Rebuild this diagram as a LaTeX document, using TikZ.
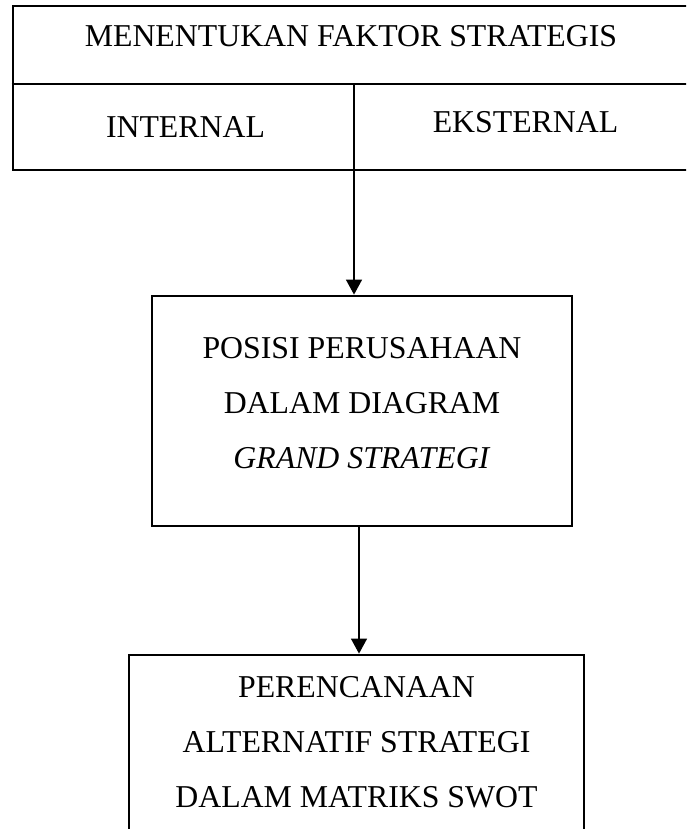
\documentclass[tikz,border=0pt]{standalone}
\usepackage{fontspec}
\setmainfont{Liberation Serif}
\usepackage{tikz}
\usetikzlibrary{arrows.meta, positioning}

\tikzset{
  kotak/.style={draw=black,line width=1.4pt,rectangle,inner sep=0pt,align=center},
  panah/.style={draw=black,line width=0.65pt,-{Triangle[width=8pt,length=7.5pt]}}
}

\begin{document}
\begin{tikzpicture}[x=0.5pt,y=-0.5pt,font=\fontsize{15.9pt}{27.5pt}\selectfont]
      \useasboundingbox (0,0) rectangle (686,829);
      \clip (0,0) rectangle (686,829);
      \begin{scope}[every node/.style={kotak}]
      \node[minimum width=339.5pt,minimum height=82pt] (faktor) at (352.5,88) {};
      \node[minimum width=210pt,minimum height=115pt,text depth=8.5pt] (posisi) at (362,411)
        {POSISI PERUSAHAAN\\DALAM DIAGRAM\\\textit{GRAND STRATEGI}};
      \node[minimum width=227.5pt,minimum height=88.5pt,text depth=2pt] (swot) at (356.5,743.5)
        {PERENCANAAN\\ALTERNATIF STRATEGI\\DALAM MATRIKS SWOT};
      \end{scope}
      \coordinate (batas) at (354,84);
      \draw[line width=1pt] (faktor.west |- batas) -- (faktor.east |- batas);
      \node[anchor=base] (judul) at (351,47) {MENENTUKAN FAKTOR STRATEGIS};
      \node[anchor=base] (internal) at (185.5,137) {INTERNAL};
      \node[anchor=base] (eksternal) at (525.5,133) {EKSTERNAL};
      \draw[panah] (batas) -- (batas |- posisi.north);
      \draw[panah] ([xshift=-1.5pt]posisi.south) -- ([xshift=-1.5pt]posisi.south |- swot.north);
\end{tikzpicture}
\end{document}
